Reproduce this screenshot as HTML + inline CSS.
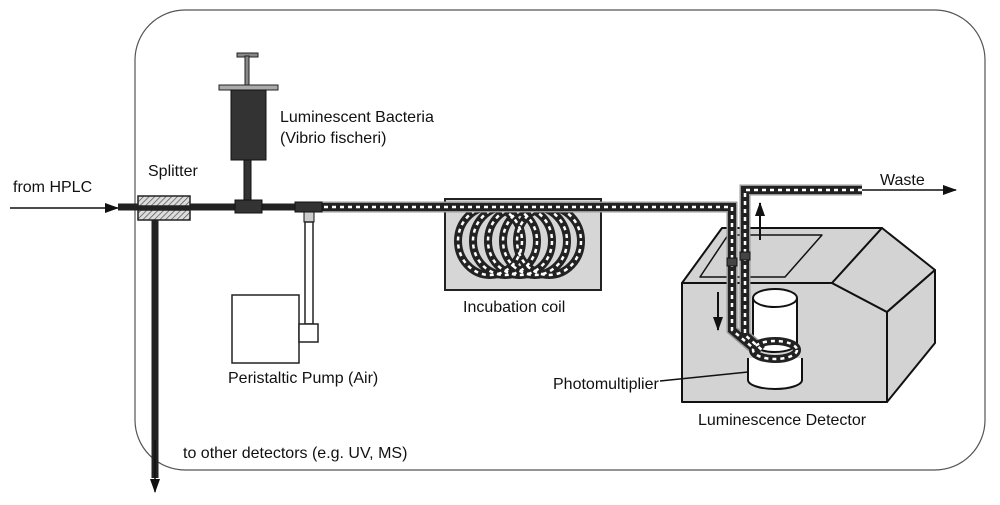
<!DOCTYPE html><html><head><style>body{margin:0;background:#fff}svg text{font-family:"Liberation Sans",sans-serif;font-size:16px;fill:#111}</style></head><body>
<svg width="1000" height="500" viewBox="0 0 1000 500" xmlns="http://www.w3.org/2000/svg">
<defs><pattern id="h" width="4" height="4" patternUnits="userSpaceOnUse" patternTransform="rotate(45)"><rect width="4" height="4" fill="#ddd"/><line x1="0" y1="0" x2="0" y2="4" stroke="#555" stroke-width="1.5"/></pattern>
<marker id="a" markerWidth="14" markerHeight="10" refX="13" refY="5" orient="auto" markerUnits="userSpaceOnUse"><path d="M0,0L14,5L0,10z" fill="#111"/></marker></defs>
<rect x="135" y="10" width="850" height="460" rx="50" fill="none" stroke="#555" stroke-width="1.2"/>
<g stroke="#111" stroke-width="2" fill="#d3d3d3" stroke-linejoin="round">
<polygon points="682,283 832,283 887,312 887,402 682,402"/>
<polygon points="682,283 722,228 882,228 832,283"/>
<polygon points="832,283 882,228 935,270 887,312"/>
<polygon points="887,312 935,270 935,343 887,402"/>
<polygon points="700,277 728,235 822,235 785,277" stroke-width="1.5"/>
<path d="M753,298 v45 a22,9 0 0 0 44,0 v-45" fill="#fff"/>
<ellipse cx="775" cy="298" rx="22" ry="9" fill="#fff"/>
<path d="M748,358 v22 a27,9 0 0 0 54,0 v-22" fill="#fff"/>
</g>
<rect x="445" y="199" width="156" height="91" fill="#d6d6d6" stroke="#222" stroke-width="2"/>
<g fill="none">
<g stroke="#222" stroke-width="8"><ellipse cx="490" cy="241" rx="32" ry="34"/><ellipse cx="505" cy="241" rx="32" ry="34"/><ellipse cx="520" cy="241" rx="32" ry="34"/><ellipse cx="535" cy="241" rx="32" ry="34"/><ellipse cx="549" cy="241" rx="32" ry="34"/></g>
<g stroke="#fff" stroke-width="2.5" stroke-dasharray="4 4"><ellipse cx="490" cy="241" rx="32" ry="34"/><ellipse cx="505" cy="241" rx="32" ry="34"/><ellipse cx="520" cy="241" rx="32" ry="34"/><ellipse cx="535" cy="241" rx="32" ry="34"/><ellipse cx="549" cy="241" rx="32" ry="34"/></g>
<g stroke="#999" stroke-width="11"><path d="M300,207 H732 V330 L752,347"/><path d="M862,190 H745 V335 L762,350"/></g>
<g stroke="#222" stroke-width="8"><path d="M300,207 H732 V330 L752,347"/><path d="M862,190 H745 V335 L762,350"/><ellipse cx="775" cy="350" rx="22" ry="9"/></g>
<g stroke="#fff" stroke-width="2.5" stroke-dasharray="4 4"><path d="M300,207 H732 V330 L752,347"/><path d="M862,190 H745 V335 L762,350"/><ellipse cx="775" cy="350" rx="22" ry="9"/></g>
</g>
<rect x="727" y="258" width="10" height="8" fill="#444" stroke="#111"/><rect x="740" y="252" width="10" height="8" fill="#444" stroke="#111"/>
<line x1="760" y1="240" x2="760" y2="203" stroke="#111" stroke-width="2" marker-end="url(#a)"/>
<line x1="718" y1="292" x2="718" y2="330" stroke="#111" stroke-width="2" marker-end="url(#a)"/>
<line x1="862" y1="190" x2="956" y2="190" stroke="#111" stroke-width="1.5" marker-end="url(#a)"/>
<line x1="660" y1="381" x2="748" y2="372" stroke="#111" stroke-width="1.5"/>
<line x1="10" y1="208" x2="118" y2="208" stroke="#111" stroke-width="1.5" marker-end="url(#a)"/>
<line x1="118" y1="207" x2="305" y2="207" stroke="#222" stroke-width="7"/>
<line x1="155" y1="207" x2="155" y2="478" stroke="#222" stroke-width="7"/>
<line x1="155" y1="440" x2="155" y2="492" stroke="#111" stroke-width="1.5" marker-end="url(#a)"/>
<rect x="138" y="196" width="52" height="10" fill="url(#h)" stroke="#222" stroke-width="1.5"/>
<rect x="138" y="210" width="52" height="10" fill="url(#h)" stroke="#222" stroke-width="1.5"/>
<rect x="237" y="53" width="21" height="4" fill="#888" stroke="#222"/>
<rect x="245" y="56" width="4" height="30" fill="#888" stroke="#222"/>
<rect x="219" y="85" width="59" height="5" fill="#aaa" stroke="#222"/>
<rect x="231" y="90" width="35" height="70" fill="#333" stroke="#111"/>
<rect x="244" y="160" width="7" height="40" fill="#333" stroke="#111"/>
<rect x="235" y="200" width="27" height="13" fill="#333" stroke="#111"/>
<rect x="295" y="202" width="27" height="10" fill="#333" stroke="#111"/>
<rect x="304" y="212" width="10" height="10" fill="#ccc" stroke="#111"/>
<rect x="305" y="222" width="8" height="102" fill="#fff" stroke="#222" stroke-width="1.5"/>
<rect x="232" y="295" width="67" height="68" fill="#fff" stroke="#222" stroke-width="1.5"/>
<rect x="299" y="324" width="19" height="18" fill="#fff" stroke="#222" stroke-width="1.5"/>
<text x="13" y="192">from HPLC</text>
<text x="148" y="176">Splitter</text>
<text x="280" y="122">Luminescent Bacteria</text>
<text x="280" y="143">(Vibrio fischeri)</text>
<text x="228" y="383">Peristaltic Pump (Air)</text>
<text x="463" y="312">Incubation coil</text>
<text x="553" y="389">Photomultiplier</text>
<text x="698" y="425">Luminescence Detector</text>
<text x="183" y="458">to other detectors (e.g. UV, MS)</text>
<text x="880" y="185">Waste</text>
</svg></body></html>
